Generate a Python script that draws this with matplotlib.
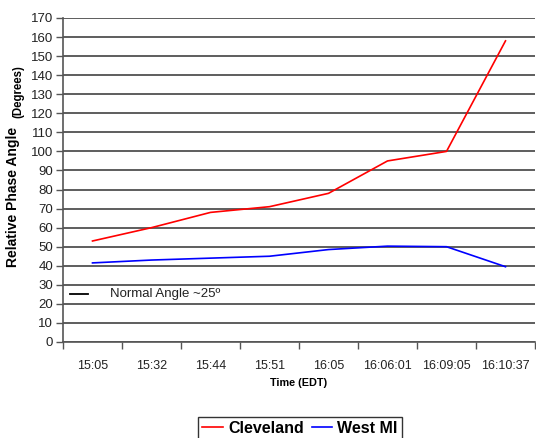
import numpy as np
import matplotlib
matplotlib.use('Agg')
import matplotlib.pyplot as plt
from matplotlib.lines import Line2D

plt.rcParams['font.family'] = ['Liberation Sans', 'DejaVu Sans']

times = ['15:05', '15:32', '15:44', '15:51', '16:05', '16:06:01', '16:09:05', '16:10:37']
cleveland = [53, 60, 68, 71, 78, 95, 100, 158]
west_mi = [41.5, 43, 44, 45, 48.5, 50.3, 50, 39.5]
normal_angle = 25

fig = plt.figure(figsize=(5.36, 4.38), dpi=100)
ax = fig.add_axes([63 / 536, 96 / 438, 472 / 536, 324 / 438])

x = np.arange(len(times))
ax.plot(x, cleveland, color='#ff0000', lw=1.2, label='Cleveland', zorder=3)
ax.plot(x, west_mi, color='#0000ff', lw=1.2, label='West MI', zorder=3)

ax.set_xlim(-0.5, len(times) - 0.5)
ax.set_ylim(0, 170)
ax.set_yticks(np.arange(0, 171, 10))
ax.yaxis.grid(True, color='#505050', lw=1.3)
ax.set_axisbelow(True)

# category boundaries get the tick marks, centres get the labels
ax.set_xticks(np.arange(-0.5, len(times), 1.0))
ax.set_xticklabels([])
ax.set_xticks(x, minor=True)
ax.set_xticklabels(times, minor=True, fontsize=9, color='#222222')
ax.tick_params(axis='x', which='minor', length=0, pad=13)
ax.tick_params(axis='x', which='major', length=5, width=1, color='#555555', direction='out')
ax.tick_params(axis='y', length=5, width=1, color='#555555', labelsize=9.5,
               labelcolor='#222222', pad=2)

for side in ['top', 'right']:
    ax.spines[side].set_visible(False)
for side in ['left', 'bottom']:
    ax.spines[side].set_color('#555555')
    ax.spines[side].set_linewidth(1.2)

# note about the normal angle
ax.plot([0.015, 0.053], [normal_angle / 170, normal_angle / 170], transform=ax.transAxes,
        color='black', lw=1.3)
ax.text(0.1, normal_angle / 170, 'Normal Angle ~%dº' % normal_angle, transform=ax.transAxes,
        fontsize=9.5, color='#222222', va='center')

fig.text(299 / 536, 1 - 383 / 438, 'Time (EDT)', ha='center', va='center',
         fontsize=7.8, fontweight='bold')
fig.text(13 / 536, 1 - 197 / 438, 'Relative Phase Angle', rotation=90, ha='center',
         va='center', fontsize=10, fontweight='bold')
fig.text(18 / 536, 1 - 92 / 438, '(Degrees)', rotation=90, ha='center', va='center',
         fontsize=8.3, fontweight='bold')

handles = [Line2D([], [], color='#ff0000', lw=1.2), Line2D([], [], color='#0000ff', lw=1.2)]
leg = fig.legend(handles, ['Cleveland', 'West MI'], loc='upper center',
                 bbox_to_anchor=(300 / 536, 1 - 417 / 438), ncol=2, fancybox=False,
                 prop={'weight': 'bold', 'size': 11.5}, handlelength=1.3,
                 handletextpad=0.3, columnspacing=0.5, borderpad=0.25, borderaxespad=0)
leg.get_frame().set_edgecolor('black')
leg.get_frame().set_linewidth(1.0)

fig.savefig('out.png', dpi=100)
